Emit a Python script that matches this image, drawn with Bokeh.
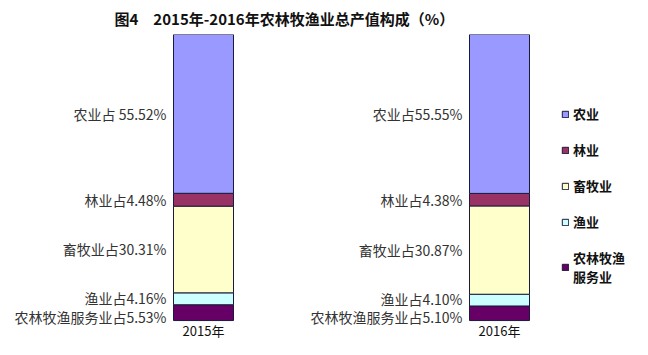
from bokeh.plotting import figure
from bokeh.models import ColumnDataSource, Range1d, Legend, LegendItem
from bokeh.core.properties import value
from bokeh.embed import file_html
from bokeh.resources import INLINE

years = ["2015年", "2016年"]
xpos = [1, 2]
categories = ["农业", "林业", "畜牧业", "渔业", "农林牧渔服务业"]
legend_labels = ["农业", "林业", "畜牧业", "渔业", "农林牧渔\n服务业"]
agri = [55.52, 55.55]
forest = [4.48, 4.38]
animal = [30.31, 30.87]
fish = [4.16, 4.10]
service = [5.53, 5.10]
label_2015 = ["农业占 55.52%", "林业占4.48%", "畜牧业占30.31%", "渔业占4.16%", "农林牧渔服务业占5.53%"]
label_2016 = ["农业占55.55%", "林业占4.38%", "畜牧业占30.87%", "渔业占4.10%", "农林牧渔服务业占5.10%"]
colors = ["#9999FF", "#993366", "#FFFFCC", "#CCFFFF", "#660066"]

# layout (pixels)
W, H = 632, 339
TOP = 33          # frame top / bar top
BASE = 320        # bar bottom (value 0)
PX_PER_X = 296.0
BAR_W = 60 / PX_PER_X
x0 = 1 - 203 / PX_PER_X
px_per_pct = (BASE - TOP) / 100.0
y0 = -(H - BASE) / px_per_pct
label_nudge = [0, 0, 0, -1, 4]   # small vertical nudges (px) to keep the bottom labels apart

p = figure(width=W, height=H, output_backend="svg", toolbar_location=None,
           x_range=Range1d(x0, x0 + W / PX_PER_X), y_range=Range1d(y0, 100),
           x_axis_location=None, y_axis_location=None,
           min_border_left=0, min_border_right=0,
           min_border_top=TOP, min_border_bottom=0,
           title="图4　2015年-2016年农林牧渔业总产值构成（%）")
p.title.align = "left"
p.title.offset = 114
p.title.text_font = "Noto Sans CJK SC"
p.title.text_font_size = "15px"
p.title.text_font_style = "bold"
p.title.text_color = "#111111"
p.title.standoff = 11
p.outline_line_color = None
p.xgrid.visible = False
p.ygrid.visible = False
p.background_fill_color = "white"

series = [agri, forest, animal, fish, service]
src = ColumnDataSource(dict(x=xpos, agri=agri, forest=forest, animal=animal, fish=fish, service=service))
stack_names = ["service", "fish", "animal", "forest", "agri"]
stack_colors = [colors[4], colors[3], colors[2], colors[1], colors[0]]
rends = p.vbar_stack(stack_names, x="x", width=BAR_W, source=src, color=stack_colors,
                     line_color="#1a1a3a", line_width=1)
rend_by_name = dict(zip(stack_names, rends))

# value labels at segment midpoints
lx, ly, lt, ldy = [], [], [], []
for i, labs in enumerate([label_2015, label_2016]):
    vals = [s[i] for s in series]
    base = 0.0
    mids = {}
    for k in range(len(vals) - 1, -1, -1):
        mids[k] = base + vals[k] / 2
        base += vals[k]
    for k in range(len(vals)):
        lx.append(xpos[i] - BAR_W / 2)
        ly.append(mids[k])
        lt.append(labs[k])
        ldy.append(label_nudge[k])
lab_src = ColumnDataSource(dict(x=lx, y=ly, text=lt, dy=ldy))
p.text(x="x", y="y", text="text", y_offset="dy", source=lab_src,
       text_align="right", text_baseline="middle", x_offset=-7,
       text_font=value("Noto Sans CJK SC"), text_font_size="14px", text_color="#333333")

# category (year) labels under the bars
p.text(x=xpos, y=[0, 0], text=years, text_align="center", text_baseline="middle", y_offset=10,
       text_font=value("Noto Sans CJK SC"), text_font_size="13px", text_color="#111111")

order = ["agri", "forest", "animal", "fish", "service"]
items = [LegendItem(label=legend_labels[j], renderers=[rend_by_name[n]]) for j, n in enumerate(order)]
legend = Legend(items=items, location=(561, 53), padding=0, margin=0, spacing=17,
                glyph_width=8, glyph_height=8, label_standoff=4,
                label_text_font="Noto Sans CJK SC", label_text_font_size="13px",
                label_text_font_style="bold", label_text_color="#111111",
                border_line_color=None, background_fill_alpha=0)
p.add_layout(legend)

open("out.html", "w").write(file_html(p, INLINE))
